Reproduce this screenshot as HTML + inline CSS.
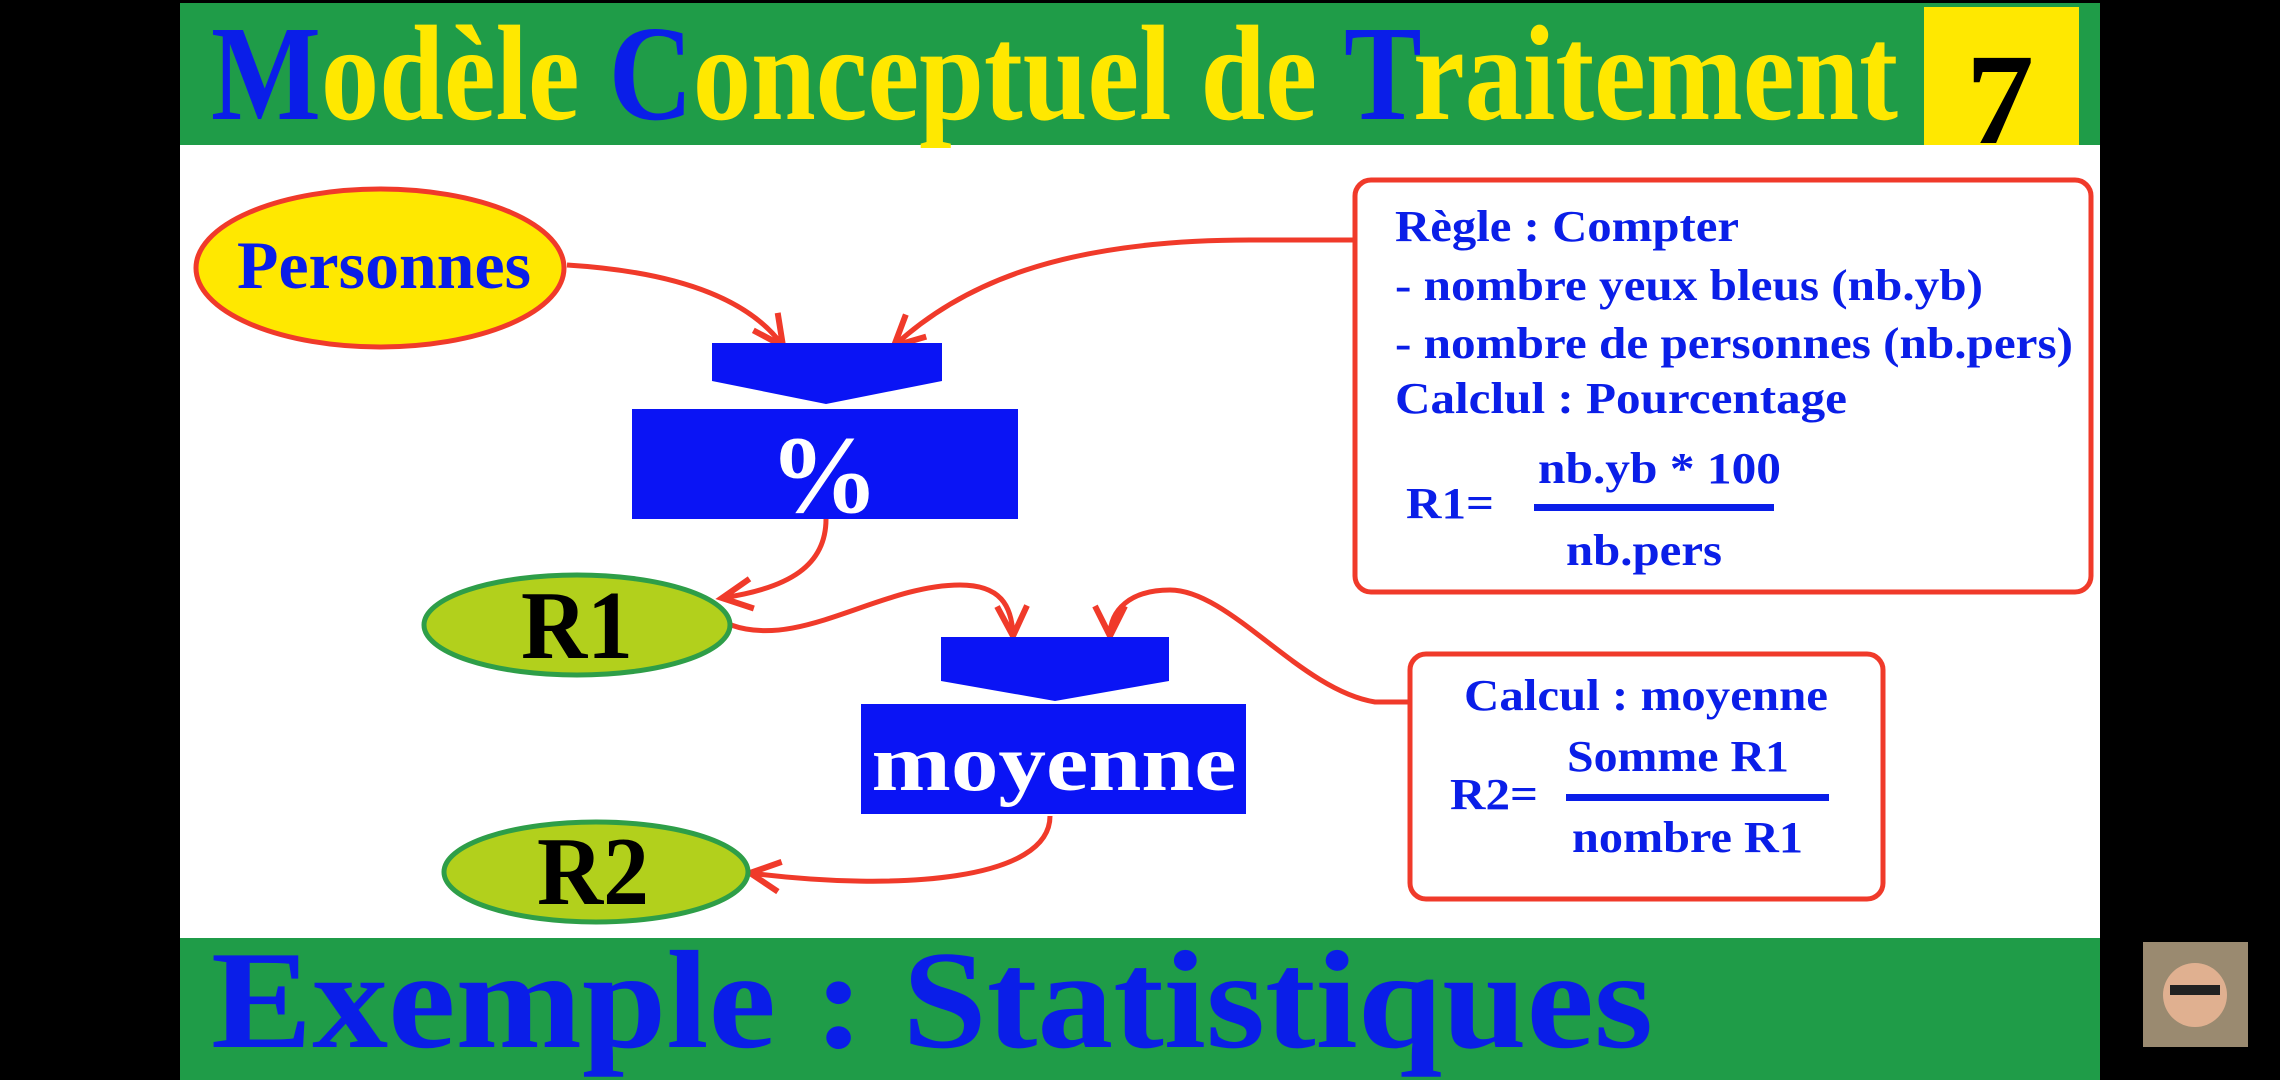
<!DOCTYPE html>
<html><head><meta charset="utf-8"><style>html,body{margin:0;padding:0;background:#000;width:2280px;height:1080px;overflow:hidden}</style></head>
<body>
<svg width="2280" height="1080" viewBox="0 0 2280 1080" xmlns="http://www.w3.org/2000/svg" font-family="'Liberation Serif', serif" font-weight="bold">
<defs>
<marker id="a" markerWidth="1" markerHeight="1" refX="0" refY="0" orient="auto" markerUnits="userSpaceOnUse" style="overflow:visible">
<polyline points="-30,-15 0,0 -30,15" fill="none" stroke="#f03a2a" stroke-width="6" stroke-linejoin="miter"/>
</marker>
</defs>
<rect x="0" y="0" width="2280" height="1080" fill="#000"/>
<rect x="180" y="3" width="1920" height="1077" fill="#fff"/>
<rect x="180" y="3" width="1920" height="142" fill="#1f9c48"/>
<rect x="180" y="938" width="1920" height="142" fill="#1f9c48"/>
<rect x="1924" y="7" width="155" height="138" fill="#ffe800"/>
<text x="1966" y="143" font-size="130" fill="#000" textLength="68" lengthAdjust="spacingAndGlyphs">7</text>
<text x="211" y="119" font-size="136" fill="#ffe800" textLength="1687" lengthAdjust="spacingAndGlyphs"><tspan fill="#0a1ee8">M</tspan>odèle <tspan fill="#0a1ee8">C</tspan>onceptuel de <tspan fill="#0a1ee8">T</tspan>raitement</text>
<text x="211" y="1047" font-size="140" fill="#0a1ee8" textLength="1442" lengthAdjust="spacingAndGlyphs">Exemple : Statistiques</text>
<rect x="2143" y="942" width="105" height="105" fill="#9a8a70"/>
<circle cx="2195" cy="995" r="32" fill="#e0b090"/>
<rect x="2170" y="985" width="50" height="10" fill="#222"/>

<g fill="none" stroke="#f03a2a" stroke-width="5">
<path d="M567,265 C680,272 750,300 783,346" marker-end="url(#a)"/>
<path d="M1355,240 L1250,240 C1060,240 960,285 894,346" marker-end="url(#a)"/>
<path d="M826,519 C826,565 790,588 722,598" marker-end="url(#a)"/>
<path d="M731,625 C800,650 880,585 960,585 C1000,585 1012,605 1013,636" marker-end="url(#a)"/>
<path d="M1410,702 L1375,702 C1300,690 1230,590 1170,590 C1130,590 1110,610 1110,636" marker-end="url(#a)"/>
<path d="M1050,816 C1050,880 900,892 750,873" marker-end="url(#a)"/>
</g>

<ellipse cx="380" cy="268" rx="184" ry="79" fill="#ffe800" stroke="#f03a2a" stroke-width="5"/>
<text x="237" y="288" font-size="68" fill="#0a1ee8" textLength="294" lengthAdjust="spacingAndGlyphs">Personnes</text>

<polygon points="712,343 942,343 942,381 826,404 712,381" fill="#0a14f5"/>
<rect x="632" y="409" width="386" height="110" fill="#0a14f5"/>
<text x="824" y="512" font-size="110" fill="#fff" text-anchor="middle">%</text>

<ellipse cx="577" cy="625" rx="153" ry="50" fill="#b2d01c" stroke="#2e9e48" stroke-width="5"/>
<text x="577" y="658" font-size="98" fill="#000" text-anchor="middle" textLength="112" lengthAdjust="spacingAndGlyphs">R1</text>

<polygon points="941,637 1169,637 1169,681 1055,701 941,681" fill="#0a14f5"/>
<rect x="861" y="704" width="385" height="110" fill="#0a14f5"/>
<text x="1054" y="790" font-size="80" fill="#fff" text-anchor="middle" textLength="365" lengthAdjust="spacingAndGlyphs">moyenne</text>

<ellipse cx="596" cy="872" rx="152" ry="50" fill="#b2d01c" stroke="#2e9e48" stroke-width="5"/>
<text x="593" y="904" font-size="98" fill="#000" text-anchor="middle" textLength="112" lengthAdjust="spacingAndGlyphs">R2</text>

<rect x="1355" y="180" width="736" height="412" rx="16" fill="#fff" stroke="#f03a2a" stroke-width="5"/>
<g fill="#0a1ee8" font-size="44">
<text x="1395" y="241" textLength="344" lengthAdjust="spacingAndGlyphs">Règle : Compter</text>
<text x="1395" y="300" textLength="588" lengthAdjust="spacingAndGlyphs">- nombre yeux bleus (nb.yb)</text>
<text x="1395" y="358" textLength="678" lengthAdjust="spacingAndGlyphs">- nombre de personnes (nb.pers)</text>
<text x="1395" y="413" textLength="452" lengthAdjust="spacingAndGlyphs">Calclul : Pourcentage</text>
<text x="1406" y="518" textLength="88" lengthAdjust="spacingAndGlyphs">R1=</text>
<text x="1538" y="483" textLength="243" lengthAdjust="spacingAndGlyphs">nb.yb * 100</text>
<rect x="1534" y="504" width="240" height="7"/>
<text x="1566" y="565" textLength="156" lengthAdjust="spacingAndGlyphs">nb.pers</text>
</g>

<rect x="1410" y="654" width="473" height="245" rx="16" fill="#fff" stroke="#f03a2a" stroke-width="5"/>
<g fill="#0a1ee8" font-size="44">
<text x="1464" y="710" textLength="364" lengthAdjust="spacingAndGlyphs">Calcul : moyenne</text>
<text x="1450" y="809" textLength="88" lengthAdjust="spacingAndGlyphs">R2=</text>
<text x="1567" y="771" textLength="222" lengthAdjust="spacingAndGlyphs">Somme R1</text>
<rect x="1566" y="794" width="263" height="7"/>
<text x="1572" y="852" textLength="231" lengthAdjust="spacingAndGlyphs">nombre R1</text>
</g>
</svg>
</body></html>
